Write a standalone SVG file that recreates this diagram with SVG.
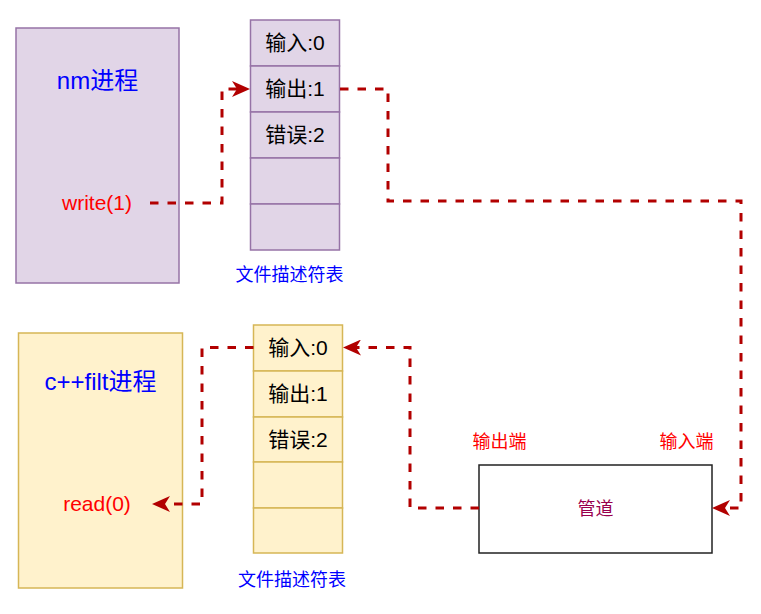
<svg xmlns="http://www.w3.org/2000/svg" width="761" height="614" viewBox="0 0 761 614">
<defs>
<style>
text{font-family:"Liberation Sans","Noto Sans CJK SC",sans-serif;text-anchor:middle}
.p1{fill:#e1d5e7;stroke:#9673a6;stroke-width:1.5}
.p2{fill:#fff2cc;stroke:#d6b656;stroke-width:1.5}
.title{font-size:24px;fill:#0000ff}
.call{font-size:21px;fill:#ff0000}
.cell{font-size:21px;fill:#000}
.cap{font-size:18px;fill:#0000ff}
.end{font-size:18px;fill:#ff0000}
.conn{fill:none;stroke:#b20000;stroke-width:3;stroke-dasharray:8.5 9;marker-end:url(#arr)}
</style>
<marker id="arr" viewBox="0 0 18 16" refX="5" refY="8" markerWidth="18" markerHeight="16" markerUnits="userSpaceOnUse" orient="auto">
<path d="M0,0 L18,8 L0,16 L5,8 Z" fill="#b20000"/>
</marker>
</defs>
<rect width="761" height="614" fill="#fff"/>
<g id="nm">
<rect class="p1" x="16" y="28" width="163" height="255"/>
<text class="title" x="97.5" y="89">nm进程</text>
<text class="call" x="97" y="210">write(1)</text>
</g>
<g id="fdt1">
<rect class="p1" x="250.5" y="20" width="89" height="46"/>
<rect class="p1" x="250.5" y="66" width="89" height="46"/>
<rect class="p1" x="250.5" y="112" width="89" height="46"/>
<rect class="p1" x="250.5" y="158" width="89" height="46"/>
<rect class="p1" x="250.5" y="204" width="89" height="46"/>
<text class="cell" x="295" y="50">输入:0</text>
<text class="cell" x="295" y="96">输出:1</text>
<text class="cell" x="295" y="142">错误:2</text>
<text class="cap" x="289.5" y="281">文件描述符表</text>
</g>
<g id="cppfilt">
<rect class="p2" x="18.5" y="333" width="164" height="255"/>
<text class="title" x="100.5" y="390">c++filt进程</text>
<text class="call" x="97" y="511">read(0)</text>
</g>
<g id="fdt2">
<rect class="p2" x="253.5" y="325" width="89" height="46"/>
<rect class="p2" x="253.5" y="371" width="89" height="46"/>
<rect class="p2" x="253.5" y="417" width="89" height="45"/>
<rect class="p2" x="253.5" y="462" width="89" height="46"/>
<rect class="p2" x="253.5" y="508" width="89" height="45"/>
<text class="cell" x="298" y="355">输入:0</text>
<text class="cell" x="298" y="401">输出:1</text>
<text class="cell" x="298" y="447">错误:2</text>
<text class="cap" x="292" y="586">文件描述符表</text>
</g>
<g id="pipe">
<rect x="479" y="465" width="233" height="88" fill="#fff" stroke="#222" stroke-width="1.5"/>
<text x="595.5" y="515" style="font-size:18px;fill:#99004d">管道</text>
<text class="end" x="499.5" y="448">输出端</text>
<text class="end" x="686.5" y="448">输入端</text>
</g>
<g id="connectors">
<path class="conn" d="M150,203 H222 V89 H237"/>
<path class="conn" d="M340,89 H388 V201 H741 V508 H725"/>
<path class="conn" d="M479,508 H410 V347.5 H356"/>
<path class="conn" d="M253.5,347.5 H202 V504 H165"/>
</g>
</svg>
